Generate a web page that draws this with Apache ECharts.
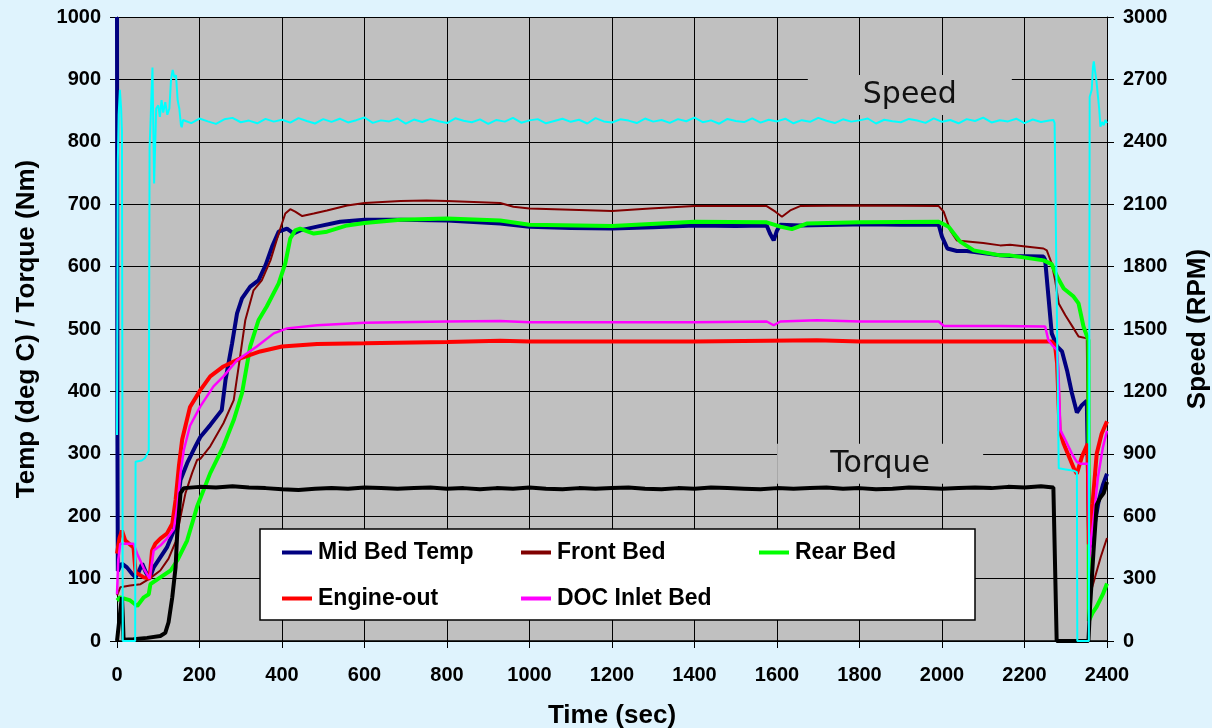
<!DOCTYPE html>
<html><head><meta charset="utf-8">
<script src="https://cdn.jsdelivr.net/npm/echarts@6/dist/echarts.min.js"></script>
<style>html,body{margin:0;padding:0;background:#dff3fd;}#c{width:1212px;height:728px;}</style>
</head><body><div id="c"></div>
<script>
// ---- data (time in sec, temperature in deg C, torque in Nm, speed in RPM) ----
const midBed = [[0,1000],[1,330],[2,112],[6,118],[12,124],[24,118],[36,108],[45,102],[52,110],[61,124],[70,110],[79,100],[89,118],[105,134],[121,150],[138,177],[146,215],[154,258],[170,285],[190,312],[202,327],[226,346],[254,370],[263,418],[279,477],[291,525],[303,549],[323,568],[343,578],[360,602],[376,632],[392,656],[412,661],[428,653],[444,658],[485,664],[541,672],[600,675],[687,675],[800,674],[929,669],[1000,664],[1100,662],[1200,661],[1300,663],[1400,666],[1500,665],[1575,666],[1583,653],[1592,642],[1600,658],[1608,667],[1656,666],[1750,667],[1818,668],[1900,667],[1992,667],[2000,648],[2013,629],[2036,625],[2060,625],[2141,618],[2165,617],[2246,616],[2250,611],[2258,552],[2266,493],[2279,472],[2291,464],[2303,434],[2315,397],[2327,366],[2339,378],[2351,385],[2355,385],[2357,150],[2365,165],[2372,195],[2380,225],[2390,250],[2400,268]];
const frontBed = [[0,73],[8,86],[32,89],[57,91],[79,100],[105,113],[125,132],[142,159],[154,199],[166,237],[182,269],[194,290],[202,292],[226,312],[258,349],[283,386],[295,440],[311,514],[331,562],[351,578],[372,610],[392,653],[408,685],[420,692],[432,688],[449,681],[477,685],[509,690],[558,698],[600,702],[687,705],[750,706],[800,705],[929,702],[961,696],[1000,693],[1100,691],[1200,689],[1292,693],[1400,697],[1500,697],[1575,697],[1596,688],[1612,680],[1632,690],[1656,697],[1800,698],[1992,697],[2004,688],[2020,658],[2036,642],[2100,638],[2141,634],[2165,635],[2246,629],[2254,626],[2266,605],[2274,579],[2283,541],[2299,522],[2319,501],[2331,488],[2351,485],[2355,485],[2357,70],[2370,100],[2385,135],[2400,165]];
const rearBed = [[0,65],[8,70],[32,65],[49,56],[65,70],[77,75],[81,91],[105,102],[130,113],[146,129],[170,161],[194,215],[226,269],[258,312],[283,354],[303,397],[323,472],[343,514],[363,536],[392,573],[408,605],[420,645],[432,658],[444,661],[460,657],[477,653],[509,656],[558,666],[600,670],[687,675],[800,677],[929,674],[1000,667],[1200,665],[1400,672],[1575,671],[1608,664],[1636,660],[1672,669],[1800,671],[1992,672],[2016,664],[2044,640],[2077,626],[2141,618],[2165,618],[2246,610],[2266,604],[2279,584],[2295,565],[2319,552],[2331,541],[2343,504],[2355,482],[2356,32],[2365,45],[2375,55],[2390,75],[2400,92]];
const engineOut = [[0,140],[6,165],[12,177],[20,161],[40,150],[45,110],[65,102],[79,100],[85,145],[93,156],[105,164],[121,172],[134,188],[142,226],[150,280],[158,323],[177,375],[202,402],[226,424],[258,440],[299,453],[347,464],[400,472],[485,476],[600,477],[800,479],[929,481],[1000,480],[1200,480],[1400,480],[1697,482],[1800,480],[2000,480],[2266,480],[2274,474],[2279,445],[2285,338],[2295,316],[2310,292],[2320,276],[2327,268],[2339,295],[2353,316],[2356,155],[2365,220],[2375,300],[2387,332],[2400,352]];
const docInlet = [[0,75],[3,130],[8,156],[40,156],[49,140],[65,116],[79,100],[89,145],[105,153],[121,164],[138,180],[146,215],[154,269],[162,306],[177,345],[202,376],[234,408],[258,424],[291,450],[339,472],[380,493],[412,501],[485,506],[600,510],[800,512],[929,513],[1000,511],[1200,511],[1400,511],[1575,512],[1592,506],[1608,512],[1697,514],[1800,512],[1992,512],[2004,505],[2141,505],[2250,504],[2258,482],[2270,472],[2279,466],[2283,418],[2287,338],[2300,321],[2315,300],[2327,287],[2335,284],[2355,284],[2357,134],[2367,193],[2378,262],[2390,310],[2400,337]];

const torqueStart = [[0,0],[10,60],[12,70],[14,40],[16,2],[40,3],[73,5],[105,8],[117,13],[125,30],[134,70],[142,118],[146,172],[154,237],[162,245]];
const torqueSteadyStart = 200, torqueSteadyStep = 40;
const torqueSteady = [247,246,248,246,245,243,242,244,245,244,246,245,244,245,246,244,245,243,245,244,246,244,243,245,244,245,246,244,243,245,244,246,245,244,243,245,244,245,246,244,245,243,244,246,245,244,245,246,245,247,246,248];
const torqueEnd = [[2270,246],[2278,0],[2355,0],[2359,55],[2367,141],[2375,218],[2384,230],[2392,237],[2400,255]];

const speedStart = [[0,990],[2,2300],[4,2530],[7,2650],[10,2560],[12,2450],[14,0],[44,0],[45,862],[60,868],[68,880],[77,915],[79,2370],[86,2757],[90,2200],[95,2560],[100,2575],[104,2520],[108,2600],[112,2540],[117,2590],[122,2530],[127,2560],[131,2700],[135,2745],[139,2710],[143,2720],[147,2600],[151,2560],[155,2480],[157,2470]];
const speedSteadyStart = 160, speedSteadyStep = 20;
const speedSteady = [2505,2490,2512,2498,2486,2508,2515,2494,2502,2489,2510,2497,2506,2492,2514,2500,2488,2509,2496,2511,2493,2504,2517,2491,2503,2498,2512,2487,2507,2495,2510,2499,2490,2513,2501,2494,2508,2486,2505,2497,2515,2492,2503,2509,2489,2500,2511,2496,2506,2488,2514,2498,2493,2508,2502,2490,2512,2497,2505,2491,2509,2499,2516,2494,2503,2487,2510,2500,2495,2513,2492,2506,2498,2511,2489,2504,2496,2515,2501,2490,2508,2497,2503,2512,2488,2506,2499,2494,2510,2502,2491,2513,2496,2505,2489,2509,2500,2516,2493,2504,2498,2511,2490,2507,2495,2502];
const speedEnd = [[2270,2505],[2273,2490],[2283,831],[2300,825],[2320,818],[2327,812],[2328,0],[2356,0],[2358,2615],[2363,2650],[2366,2760],[2368,2787],[2371,2740],[2374,2700],[2377,2640],[2381,2560],[2384,2473],[2388,2495],[2392,2480],[2396,2505],[2400,2490]];

const legendNames = ['Mid Bed Temp','Front Bed','Rear Bed','Engine-out','DOC Inlet Bed'];
const seriesColors = ['#000080','#800000','#00ff00','#ff0000','#ff00ff'];
const xAxisName = 'Time (sec)', yLeftName = 'Temp (deg C) / Torque (Nm)', yRightName = 'Speed (RPM)';
const speedLabel = {text:'Speed', at:[1922, 875]};
const torqueLabel = {text:'Torque', at:[1850, 284]};

// ---- build ----
function expand(start, step, vals){ return vals.map((v,i)=>[start+step*i, v]); }
const torque = torqueStart.concat(expand(torqueSteadyStart, torqueSteadyStep, torqueSteady), torqueEnd);
const speed = speedStart.concat(expand(speedSteadyStart, speedSteadyStep, speedSteady), speedEnd);

const FONT = '"Liberation Sans", Arial, sans-serif';
const chart = echarts.init(document.getElementById('c'));
const tempData = [midBed, frontBed, rearBed, engineOut, docInlet];
const widths = [4, 2, 4, 4, 2.5];
const series = tempData.map((d,i)=>({
  name: legendNames[i], type:'line', data:d, yAxisIndex:0, showSymbol:false, symbol:'none',
  lineStyle:{color:seriesColors[i], width:widths[i]}, itemStyle:{color:seriesColors[i]},
  emphasis:{disabled:true}, animation:false, z:2+i*0.01
}));
series.push({name:'Torque', type:'line', data:torque, yAxisIndex:0, showSymbol:false, symbol:'none',
  lineStyle:{color:'#000', width:4}, emphasis:{disabled:true}, animation:false, z:3});
series.push({name:'Speed', type:'line', data:speed, yAxisIndex:1, showSymbol:false, symbol:'none',
  lineStyle:{color:'#00ffff', width:2}, emphasis:{disabled:true}, animation:false, z:3.1});

const legendPos = [[282,541],[521,541],[759,541],[282,587],[521,587]];
const legends = legendNames.map((n,i)=>({
  data:[n], left:legendPos[i][0], top:legendPos[i][1], padding:0, icon:'rect', itemWidth:30, itemHeight:4,
  selectedMode:false, textStyle:{fontFamily:FONT, fontWeight:'bold', fontSize:23, color:'#000', padding:[0,0,0,1]}
}));

const plain = v => String(v);
const axisLabel = {fontFamily:FONT, fontWeight:'bold', fontSize:20, color:'#000', formatter:plain};
const nameStyle = {fontFamily:FONT, fontWeight:'bold', fontSize:26, color:'#000'};
chart.setOption({
  animation:false,
  backgroundColor:'#dff3fd',
  grid:{left:117, right:105, top:17, bottom:87, show:true, backgroundColor:'#c0c0c0', borderWidth:0, outerBoundsMode:'none', containLabel:false},
  legend: legends,
  xAxis:{type:'value', min:0, max:2400, interval:200, name:xAxisName, nameLocation:'middle', nameGap:62, nameTextStyle:nameStyle,
    axisLine:{lineStyle:{color:'#000', width:1.5}}, axisTick:{show:true, length:7, lineStyle:{color:'#000'}},
    axisLabel:Object.assign({margin:24}, axisLabel),
    splitLine:{show:true, lineStyle:{color:'#000', width:1}}},
  yAxis:[
    {type:'value', min:0, max:1000, interval:100, name:yLeftName, nameLocation:'middle', nameGap:77, nameRotate:90, nameTextStyle:nameStyle,
     axisLine:{show:true, lineStyle:{color:'#000'}}, axisTick:{show:true, length:7, lineStyle:{color:'#000'}},
     axisLabel:Object.assign({margin:16}, axisLabel), splitLine:{show:true, lineStyle:{color:'#000', width:1}}},
    {type:'value', min:0, max:3000, interval:300, position:'right', name:yRightName, nameLocation:'middle', nameGap:78, nameRotate:90, nameTextStyle:nameStyle,
     axisLine:{show:true, lineStyle:{color:'#000'}}, axisTick:{show:true, length:7, lineStyle:{color:'#000'}},
     axisLabel:Object.assign({margin:16}, axisLabel), splitLine:{show:false}}
  ],
  series: series
});

function labelGraphic(lbl, halfW, halfH){
  const p = chart.convertToPixel({gridIndex:0}, lbl.at);
  return {type:'group', z:50, children:[
    {type:'rect', shape:{x:p[0]-halfW, y:p[1]-halfH, width:halfW*2, height:halfH*2}, style:{fill:'#c0c0c0'}, z:50},
    {type:'text', x:p[0], y:p[1], style:{text:lbl.text, fill:'#111', font:'30px "DejaVu Sans", sans-serif', align:'center', verticalAlign:'middle'}, z:51}
  ]};
}
chart.setOption({graphic:[
  {type:'rect', shape:{x:260, y:529, width:715, height:91}, style:{fill:'#fff', stroke:'#000', lineWidth:1.5}, z:3},
  labelGraphic(speedLabel, 102, 20),
  labelGraphic(torqueLabel, 103, 20)
]});
</script></body></html>
